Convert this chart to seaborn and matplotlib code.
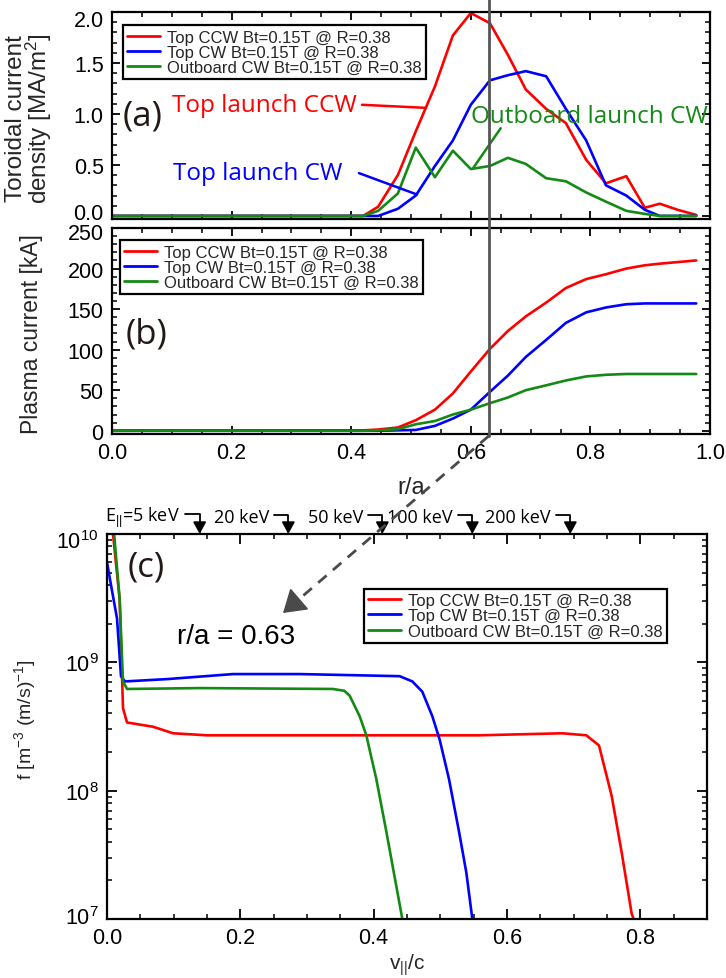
import numpy as np
import pandas as pd
import matplotlib
matplotlib.use('Agg')
import matplotlib.pyplot as plt
import seaborn as sns
from matplotlib.lines import Line2D
from matplotlib.patches import FancyArrowPatch
from matplotlib import transforms
from matplotlib.ticker import (MultipleLocator, LogLocator, NullFormatter,
                               FormatStrFormatter, FixedLocator)

sns.set_style('ticks')
plt.rcParams['font.family'] = ['Liberation Sans', 'DejaVu Sans']
plt.rcParams['mathtext.fontset'] = 'custom'
plt.rcParams['mathtext.rm'] = 'Liberation Sans'
plt.rcParams['mathtext.it'] = 'Liberation Sans:italic'
plt.rcParams['mathtext.bf'] = 'Liberation Sans:bold'

# ---------------- data ----------------
series_labels = ['Top CCW Bt=0.15T @ R=0.38',
                 'Top CW Bt=0.15T @ R=0.38',
                 'Outboard CW Bt=0.15T @ R=0.38']
series_colors = ['#ff0000', '#0000ff', '#138a13']

r_a = [0.0, 0.42, 0.445, 0.478, 0.508, 0.54, 0.57, 0.60, 0.632, 0.662, 0.692,
       0.726, 0.759, 0.793, 0.826, 0.86, 0.891, 0.916, 0.946, 0.977]

j_ccw = [0, 0.0, 0.09, 0.40, 0.83, 1.27, 1.77, 1.99, 1.89, 1.58, 1.24,
         1.05, 0.91, 0.55, 0.32, 0.39, 0.08, 0.12, 0.06, 0.01]
j_cw = [0, 0.0, 0.0, 0.07, 0.20, 0.49, 0.74, 1.09, 1.33, 1.38, 1.42,
        1.37, 1.05, 0.74, 0.30, 0.20, 0.06, 0.0, 0.0, 0.0]
j_ob = [0, 0.0, 0.05, 0.22, 0.67, 0.38, 0.64, 0.46, 0.49, 0.57, 0.51,
        0.37, 0.34, 0.23, 0.14, 0.05, 0.02, 0.0, 0.0, 0.0]

i_ccw = [0, 0.5, 1.5, 4, 13, 26, 46, 73, 101, 123, 141,
         158, 176, 187, 193, 200, 204, 206, 208, 210]
i_cw = [0, 0, 0, 0.5, 1, 6, 15, 26, 48, 68, 91,
        112, 133, 146, 152, 156, 157, 157, 157, 157]
i_ob = [0, 0, 0.5, 2, 8, 12, 20, 26, 34, 41, 50,
        56, 62, 67, 69, 70, 70, 70, 70, 70]

v_ccw = [0.0, 0.009, 0.019, 0.024, 0.030, 0.045, 0.069, 0.099, 0.150, 0.289,
         0.439, 0.558, 0.683, 0.719, 0.738, 0.757, 0.772, 0.787, 0.790, 0.793]
f_ccw = [3e10, 1.0e10, 3.1e9, 4.4e8, 3.4e8, 3.3e8, 3.15e8, 2.8e8, 2.7e8, 2.7e8,
         2.7e8, 2.7e8, 2.8e8, 2.7e8, 2.25e8, 9.1e7, 3.3e7, 1.1e7, 1.0e7, 9e6]
v_cw = [0.0, 0.008, 0.015, 0.021, 0.027, 0.09, 0.189, 0.289, 0.389, 0.439,
        0.458, 0.473, 0.488, 0.499, 0.513, 0.528, 0.539, 0.548, 0.552]
f_cw = [6.0e9, 3.5e9, 2.2e9, 7.8e8, 7.1e8, 7.4e8, 8.1e8, 8.1e8, 7.9e8, 7.8e8,
        7.1e8, 5.9e8, 3.8e8, 2.5e8, 1.23e8, 4.8e7, 2.3e7, 1.0e7, 8.5e6]
v_ob = [0.0, 0.010, 0.019, 0.024, 0.030, 0.14, 0.339, 0.356, 0.364, 0.379,
        0.389, 0.404, 0.419, 0.434, 0.443, 0.446]
f_ob = [2.5e10, 1.1e10, 3.1e9, 7.1e8, 6.2e8, 6.3e8, 6.2e8, 6.0e8, 5.5e8, 3.8e8,
        2.7e8, 1.23e8, 4.8e7, 1.8e7, 1.0e7, 8.5e6]

energy_labels = ['E$_{||}$=5 keV', '20 keV', '50 keV', '100 keV', '200 keV']
energy_v = [0.139, 0.272, 0.413, 0.548, 0.695]

ticks_ja = [0.0, 0.5, 1.0, 1.5, 2.0]
ticks_ip = [0, 50, 100, 150, 200, 250]
ticks_f = [1e7, 1e8, 1e9, 1e10]

r_mark = 0.63

# annotation text / pointer positions in panel (a) data coords
ann_texts = ['Top launch CCW', 'Top launch CW', 'Outboard launch CW']
ann_text_xy = [(0.100, 1.09), (0.102, 0.42), (0.600, 0.98)]
ann_line_from = [(0.418, 1.09), (0.413, 0.42), (0.650, 0.86)]
ann_line_to = [(0.525, 1.06), (0.510, 0.21), (0.604, 0.47)]

# ---------------- figure ----------------
W, H = 726, 979
fig = plt.figure(figsize=(W / 100, H / 100), dpi=100)

def frac(l, t, r, b):
    return [l / W, 1 - b / H, (r - l) / W, (b - t) / H]

axa = fig.add_axes(frac(112, 13, 710, 220))
axb = fig.add_axes(frac(112, 229, 710, 435))
axc = fig.add_axes(frac(107, 535, 707, 920))

hum = 'Open Sans'
panel_col = '#231815'

def style_axes(ax, fs):
    for s in ax.spines.values():
        s.set_linewidth(1.6)
        s.set_color('black')
    ax.tick_params(which='both', direction='in', top=True, right=True,
                   colors='black', labelsize=fs)
    ax.tick_params(which='major', length=6, width=1.3, pad=6)
    ax.tick_params(which='minor', length=3.5, width=1.1)

def make_legend(ax, **kw):
    leg = ax.legend(fontsize=12, frameon=True, fancybox=False, edgecolor='black',
                    framealpha=1, borderpad=0.25, labelspacing=0.02,
                    handlelength=2.0, handletextpad=0.4, borderaxespad=0, **kw)
    leg.get_frame().set_linewidth(1.6)
    for ln in leg.get_lines():
        ln.set_linewidth(2.0)
    return leg

def nudge(ax, top_px, bottom_px):
    ticks = ax.yaxis.get_major_ticks()
    off_top = transforms.ScaledTranslation(0, -top_px / 100, fig.dpi_scale_trans)
    off_bot = transforms.ScaledTranslation(0, bottom_px / 100, fig.dpi_scale_trans)
    ticks[-1].label1.set_transform(ticks[-1].label1.get_transform() + off_top)
    ticks[0].label1.set_transform(ticks[0].label1.get_transform() + off_bot)

# panel (a)
dfa = pd.DataFrame({'r': r_a * 3,
                    'val': j_ccw + j_cw + j_ob,
                    'series': sum([[s] * len(r_a) for s in series_labels], [])})
sns.lineplot(data=dfa, x='r', y='val', hue='series', palette=series_colors,
             hue_order=series_labels, ax=axa, lw=1.9, sort=False, estimator=None)
axa.set_xlim(0, 1.0)
axa.set_ylim(-0.03, 2.0)
axa.xaxis.set_major_locator(MultipleLocator(0.2))
axa.xaxis.set_minor_locator(MultipleLocator(0.05))
axa.yaxis.set_major_locator(FixedLocator(ticks_ja))
axa.yaxis.set_minor_locator(MultipleLocator(0.1))
axa.yaxis.set_major_formatter(FormatStrFormatter('%.1f'))
axa.set_xticklabels([])
axa.set_xlabel('')
style_axes(axa, 15.5)
axa.set_ylabel('Toroidal current\ndensity [MA/m$^2$]', fontsize=17.5, linespacing=0.85)
axa.yaxis.set_label_coords(-0.097, 0.49)
make_legend(axa, loc='upper left', bbox_to_anchor=(0.018, 0.935))
axa.text(0.017, 0.5, '(a)', transform=axa.transAxes, fontsize=25, family=hum,
         color=panel_col, va='center', ha='left')
for txt, col, (tx, ty), p0, p1 in zip(ann_texts, series_colors, ann_text_xy,
                                      ann_line_from, ann_line_to):
    axa.text(tx, ty, txt, color=col, fontsize=17.5, family=hum, va='center', ha='left')
    axa.plot([p0[0], p1[0]], [p0[1], p1[1]], color=col, lw=1.8)

# panel (b)
dfb = pd.DataFrame({'r': r_a * 3,
                    'val': i_ccw + i_cw + i_ob,
                    'series': sum([[s] * len(r_a) for s in series_labels], [])})
sns.lineplot(data=dfb, x='r', y='val', hue='series', palette=series_colors,
             hue_order=series_labels, ax=axb, lw=1.9, sort=False, estimator=None)
axb.set_xlim(0, 1.0)
axb.set_ylim(-4, 250)
axb.xaxis.set_major_locator(MultipleLocator(0.2))
axb.xaxis.set_minor_locator(MultipleLocator(0.05))
axb.yaxis.set_major_locator(FixedLocator(ticks_ip))
axb.yaxis.set_minor_locator(MultipleLocator(10))
axb.yaxis.set_major_formatter(FormatStrFormatter('%d'))
axb.xaxis.set_major_formatter(FormatStrFormatter('%.1f'))
style_axes(axb, 15.5)
axb.set_xlabel('r/a', fontsize=17, labelpad=9)
axb.set_ylabel('Plasma current [kA]', fontsize=16.5)
axb.yaxis.set_label_coords(-0.115, 0.49)
make_legend(axb, loc='upper left', bbox_to_anchor=(0.013, 0.94))
axb.text(0.022, 0.49, '(b)', transform=axb.transAxes, fontsize=25, family=hum,
         color=panel_col, va='center', ha='left')

# panel (c)
dfc = pd.DataFrame({'v': v_ccw + v_cw + v_ob,
                    'f': f_ccw + f_cw + f_ob,
                    'series': [series_labels[0]] * len(v_ccw) +
                              [series_labels[1]] * len(v_cw) +
                              [series_labels[2]] * len(v_ob)})
sns.lineplot(data=dfc, x='v', y='f', hue='series', palette=series_colors,
             hue_order=series_labels, ax=axc, lw=1.9, sort=False, estimator=None)
axc.set_yscale('log')
axc.set_xlim(0, 0.9)
axc.set_ylim(1e7, 1e10)
axc.xaxis.set_major_locator(MultipleLocator(0.2))
axc.xaxis.set_minor_locator(MultipleLocator(0.05))
axc.xaxis.set_major_formatter(FormatStrFormatter('%.1f'))
axc.yaxis.set_major_locator(FixedLocator(ticks_f))
axc.yaxis.set_minor_locator(LogLocator(base=10, subs=np.arange(2, 10), numticks=20))
axc.yaxis.set_minor_formatter(NullFormatter())
style_axes(axc, 15.5)
axc.tick_params(which='major', length=7)
axc.set_xlabel('v$_{||}$/c', fontsize=15, labelpad=2)
axc.set_ylabel('f [m$^{-3}$ (m/s)$^{-1}$]', fontsize=14)
axc.yaxis.set_label_coords(-0.115, 0.52)
make_legend(axc, loc='upper right', bbox_to_anchor=(0.933, 0.858))
axc.text(0.035, 0.915, '(c)', transform=axc.transAxes, fontsize=25, family=hum,
         color=panel_col, va='center', ha='left')

for lab, v in zip(energy_labels, energy_v):
    axc.annotate(lab, xy=(v, 1.0), xycoords=('data', 'axes fraction'),
                 xytext=(-14, 12), textcoords='offset points', ha='right', va='center',
                 fontsize=13, family=hum, color='black', annotation_clip=False,
                 arrowprops=dict(arrowstyle='-|>,head_length=0.55,head_width=0.3',
                                 color='black', lw=1.3, shrinkA=1, shrinkB=0,
                                 relpos=(1.0, 0.65),
                                 connectionstyle='angle,angleA=0,angleB=90,rad=0'))

# IDL-like inward nudge of the edge tick labels
nudge(axa, 6, 5)
nudge(axb, 3, 0)
nudge(axc, 5, 4)

# vertical marker line through (a) and (b)
bt = transforms.blended_transform_factory(axb.transData, fig.transFigure)
y_end = 1 - 437 / H
fig.add_artist(Line2D([r_mark, r_mark], [1.0, y_end], transform=bt,
                      color='#555555', lw=2.0))

# dashed pointer to panel (c) label
pos_b = axb.get_position()
x0f = pos_b.x0 + r_mark * pos_b.width
x1f, y1f = 283 / W, 1 - 614 / H
dxp, dyp = (x0f - x1f) * W, (y_end - y1f) * H
L = np.hypot(dxp, dyp)
ux, uy = dxp / L, dyp / L
fig.add_artist(Line2D([x0f, x1f + 12 * ux / W], [y_end, y1f + 12 * uy / H],
                      transform=fig.transFigure, color='#4a4a4a', lw=2.0,
                      linestyle=(0, (4, 3))))
fig.add_artist(FancyArrowPatch((x1f + 18 * ux / W, y1f + 18 * uy / H), (x1f, y1f),
                               transform=fig.transFigure,
                               arrowstyle='-|>,head_length=7,head_width=4.5',
                               color='#4a4a4a', lw=1.2, mutation_scale=2,
                               shrinkA=0, shrinkB=0))
fig.text(236 / W, 1 - 637 / H, 'r/a = 0.63', fontsize=20, ha='center', va='center',
         color='black')

fig.savefig('out.png', dpi=100)
